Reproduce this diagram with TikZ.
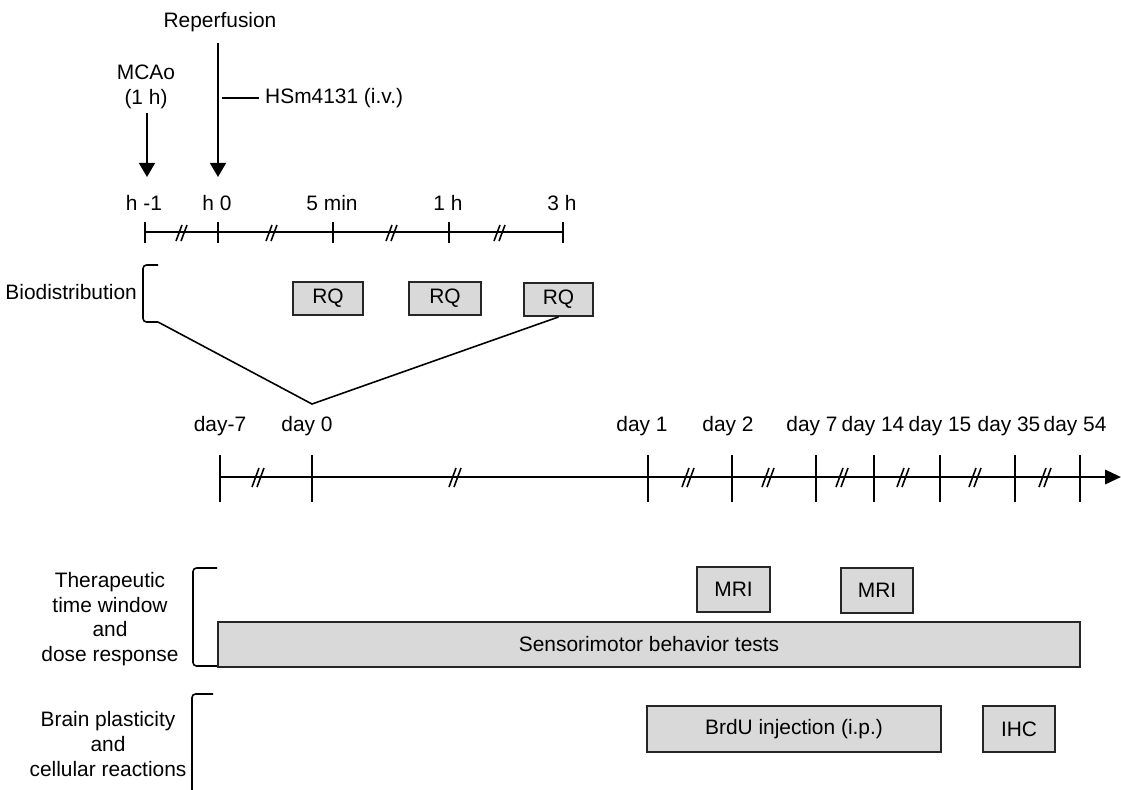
\documentclass[tikz,border=0pt]{standalone}
\usepackage{fontspec}
\setmainfont{Liberation Sans}
\usetikzlibrary{arrows.meta}

\tikzset{
  box/.style={draw=black!85, fill=black!15, line width=1.1pt, inner sep=0pt},
  thin/.style={line width=0.9pt},
  axis/.style={line width=1.6pt, -{Triangle[length=9pt,width=8pt]}},
  arr/.style={line width=1.2pt, -{Triangle[length=8pt,width=9pt]}}
}

\begin{document}
\begin{tikzpicture}[x=0.02cm, y=-0.02cm, font=\fontsize{11.9}{14}\selectfont]
	\useasboundingbox (0,0) rectangle (1121,789);

	\coordinate (repstart) at (218,43);
	\coordinate (repend) at (218,177);
	\coordinate (mcastart) at (147,113);
	\coordinate (mcaend) at (147,177);
	\coordinate (hsmstart) at (222,98);

	\node (reperf) at (220,22) {Reperfusion};
	\node[align=center] (mcao) at (146,87) {MCAo\\(1 h)};
	\node[anchor=west] (hsm) at (259,98) {HSm4131 (i.v.)};

	\draw[arr] (repstart) -- (repend);
	\draw[arr] (mcastart) -- (mcaend);
	\draw[thin] (hsmstart) -- (hsm.west);

	% hours
	\foreach \x/\n/\t in {145/hm/h -1, 218/hz/h 0, 333/mf/5 min, 449/ho/1 h, 563/ht/3 h} {
		\coordinate (\n) at (\x,232);
		\draw[thin] (\x,222) -- (\x,243);
		\node (l\n) at (\x-1,203) {\t};
	}
	\draw[thin] (hm) -- (ht);
	\foreach \x in {182,272,392,500} {
		\draw[thin] (\x-6,241) -- (\x,225) (\x-1,241) -- (\x+5,225);
	}

	\node[anchor=east] (bio) at (143,292) {Biodistribution};
	\coordinate (biotop) at (158,265);
	\coordinate (biobot) at (158,322);
	\draw[thin, rounded corners=2pt] (biotop) -- (143,265) -- (143,322) -- (biobot);

	\node[box, minimum width=1.4cm, minimum height=0.66cm] (rqa) at (328,298.5) {RQ};
	\node[box, minimum width=1.44cm, minimum height=0.66cm] (rqb) at (445,298.5) {RQ};
	\node[box, minimum width=1.38cm, minimum height=0.66cm] (rqc) at (558.5,299.5) {RQ};

	\coordinate (zoomtip) at (312,404);
	\draw[thin] (biobot) -- (zoomtip) -- (rqc.south);

	% days
	\coordinate (axstart) at (220,477);
	\coordinate (axend) at (1121,477);
	\draw[axis] (axstart) -- (axend);
	\foreach \x/\n in {220/dm,312/dz,648/da,732/db,816/dc,874/dd,940/de,1015/df,1080/dg} {
		\draw[thin] (\x,455) -- (\x,502);
	}
	\foreach \x/\n/\t in {220/dm/day-7, 307/dz/day 0, 642/da/day 1, 728/db/day 2, 812/dc/day 7, 873/dd/day 14, 940/de/day 15, 1009/df/day 35, 1075/dg/day 54} {
		\node (l\n) at (\x,426) {\t};
	}
	\foreach \x in {258,455,688,768,842,903,975,1045} {
		\draw[thin] (\x-6,487) -- (\x+1,468) (\x-1,487) -- (\x+6,468);
	}

	\node[align=center] (thera) at (110,619) {Therapeutic\\time window\\and\\dose response};
	\draw[thin, rounded corners=2pt] (217,568) -- (193,568) -- (193,666) -- (217,666);

	\node[box, minimum width=1.46cm, minimum height=0.9cm] (mria) at (733.5,589.5) {MRI};
	\node[box, minimum width=1.44cm, minimum height=0.9cm] (mrib) at (877,590.5) {MRI};
	\node[box, minimum width=17.24cm, minimum height=0.9cm] (sensor) at (649,644.5) {Sensorimotor behavior tests};

	\node[align=center] (brain) at (108,744) {Brain plasticity\\and\\cellular reactions};
	\draw[thin, rounded corners=2pt] (213,694) -- (192,694) -- (192,795);

	\node[box, minimum width=5.88cm, minimum height=0.92cm] (brdu) at (794,729) {BrdU injection (i.p.)};
	\node[box, minimum width=1.44cm, minimum height=0.92cm] (ihc) at (1019,729) {IHC};
\end{tikzpicture}
\end{document}
